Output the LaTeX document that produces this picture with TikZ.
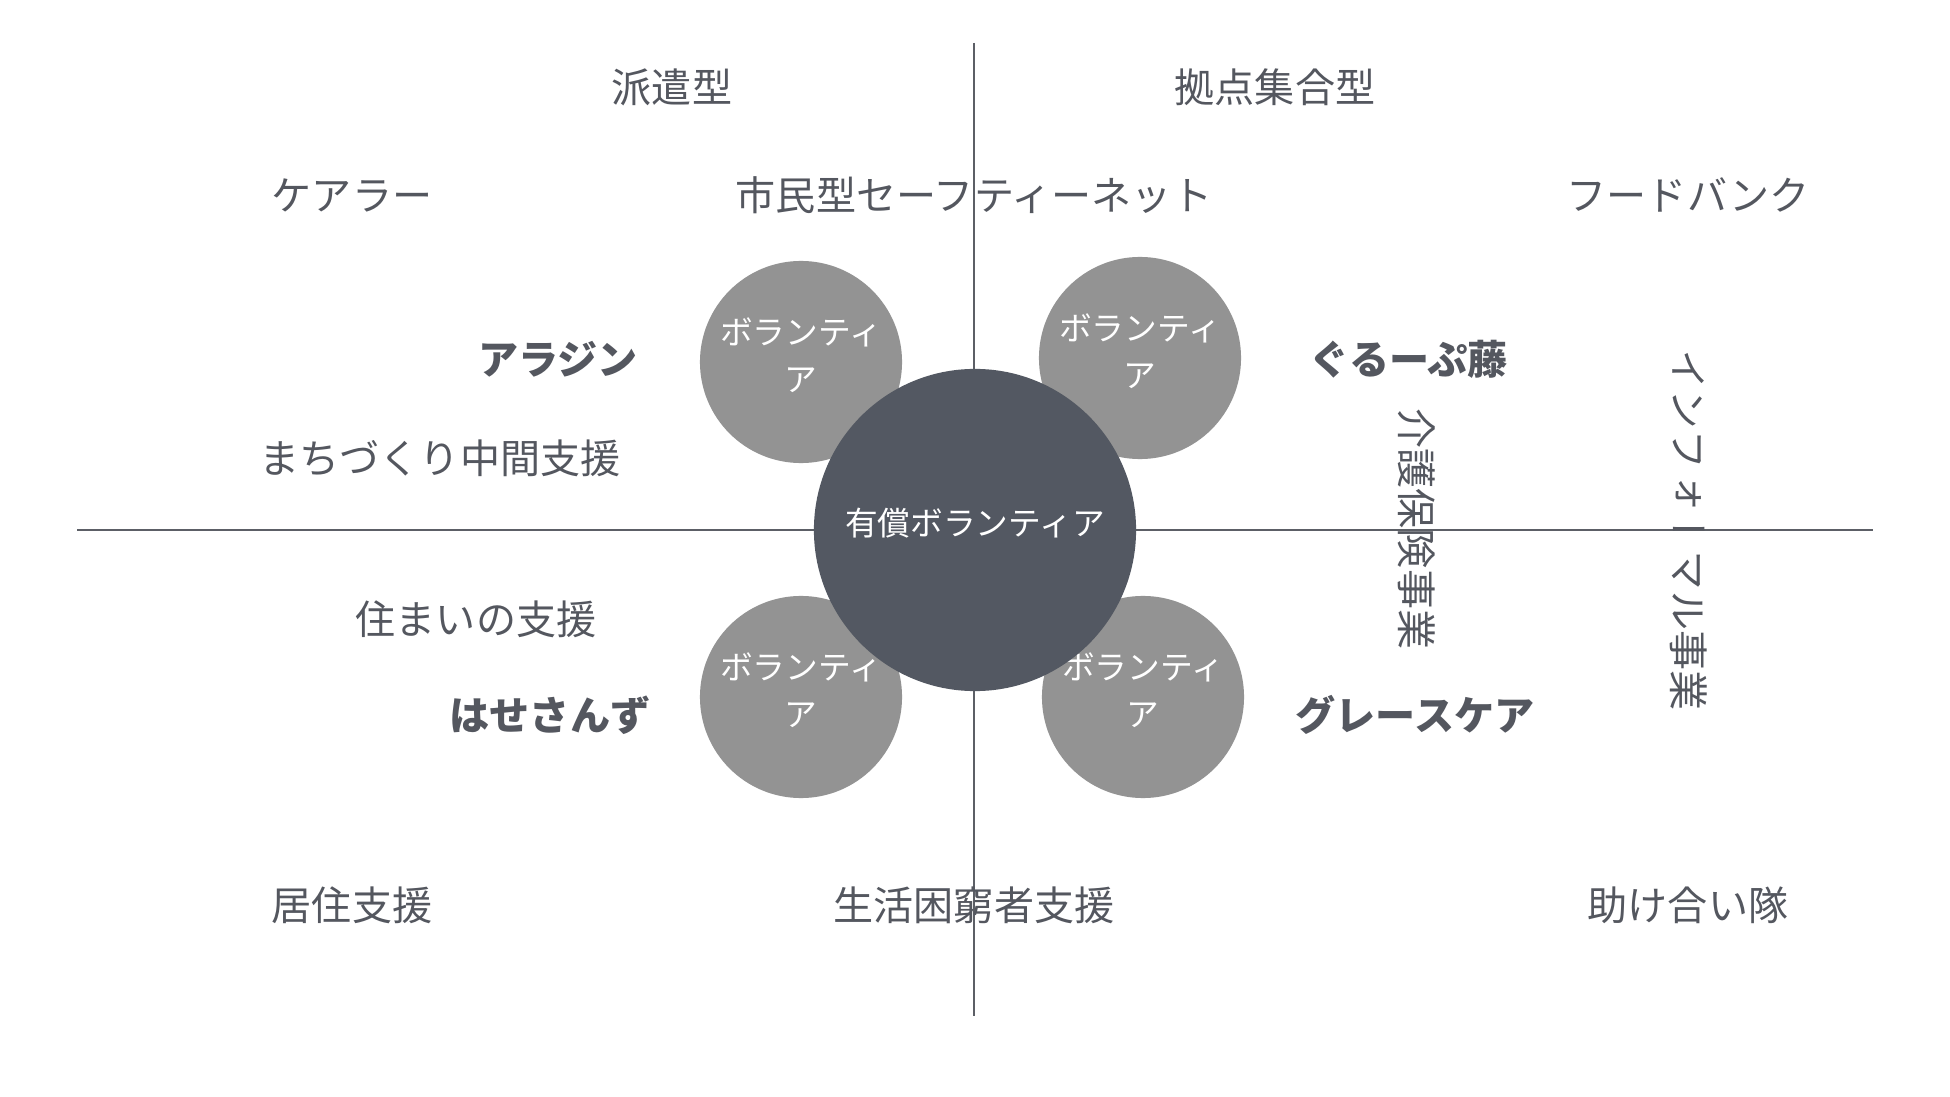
\documentclass[tikz,border=0pt]{standalone}
\usepackage{fontspec}
\setmainfont{Noto Sans CJK JP}
\newfontfamily\vjp[Vertical=RotatedGlyphs]{Noto Sans CJK JP}
\usepackage{tikz}
\usetikzlibrary{positioning,calc}
\definecolor{slate}{RGB}{83,88,98}
\definecolor{midgray}{RGB}{147,147,147}
\definecolor{ink}{RGB}{84,87,95}
\definecolor{axisgray}{RGB}{92,95,102}
\tikzset{
  hub/.style={circle,fill=slate,minimum size=3.22cm,inner sep=0pt},
  vol/.style={circle,fill=midgray,minimum size=2.02cm,inner sep=0pt},
  intext/.style={text=white,font=\fontsize{9.3pt}{13.4pt}\selectfont,align=center,inner sep=0pt,yshift=2pt},
  tag/.style={text=ink,font=\fontsize{11.4pt}{13pt}\selectfont,inner sep=1pt},
  org/.style={tag,font=\fontsize{11.4pt}{13pt}\selectfont\bfseries},
  vtag/.style={tag,rotate=-90,font=\fontsize{11.4pt}{13pt}\selectfont\vjp},
  axis/.style={draw=axisgray,line width=0.6pt}
}

\begin{document}
\begin{tikzpicture}[x=0.01cm,y=-0.01cm]
  \useasboundingbox (0,0) rectangle (1950,1097);
  \coordinate (ytop) at (974,43);
  \coordinate (ybot) at (974,1016);
  \coordinate (xleft) at (77,530);
  \coordinate (xright) at (1873,530);
  \draw[axis] (ytop) -- (ybot);
  \draw[axis] (xleft) -- (xright);

  \node[vol,label={[intext]center:ボランティ\\ア}] (voltl) at (801,362) {};
  \node[vol,label={[intext]center:ボランティ\\ア}] (voltr) at (1140,358) {};
  \node[vol,label={[intext]center:ボランティ\\ア}] (volbl) at (801,697) {};
  \node[vol,label={[intext]center:ボランティ\\ア}] (volbr) at (1143,697) {};
  \node[hub,label={[intext]center:有償ボランティア}] (paid) at (975,530) {};

  \node[tag] (haken) at (672,87) {派遣型};
  \node[tag] (kyoten) at (1275,87) {拠点集合型};
  \node[tag] (carer) at (352,195) {ケアラー};
  \node[tag] (safety) at (974,195) {市民型セーフティーネット};
  \node[tag] (food) at (1688,195) {フードバンク};
  \node[org] (aladdin) at (558,359) {アラジン};
  \node[org] (fuji) at (1409,359) {ぐるーぷ藤};
  \node[tag] (machi) at (440,458) {まちづくり中間支援};
  \node[tag] (sumai) at (476,619) {住まいの支援};
  \node[org] (hasesanzu) at (550,715) {はせさんず};
  \node[org] (grace) at (1415,715) {グレースケア};
  \node[tag] (kyoju) at (352,905) {居住支援};
  \node[tag] (konkyu) at (974,905) {生活困窮者支援};
  \node[tag] (tasuke) at (1688,905) {助け合い隊};
  \node[vtag] (kaigo) at (1417,529) {介護保険事業};
  \node[vtag] (informal) at (1689,530) {インフォーマル事業};
\end{tikzpicture}
\end{document}
